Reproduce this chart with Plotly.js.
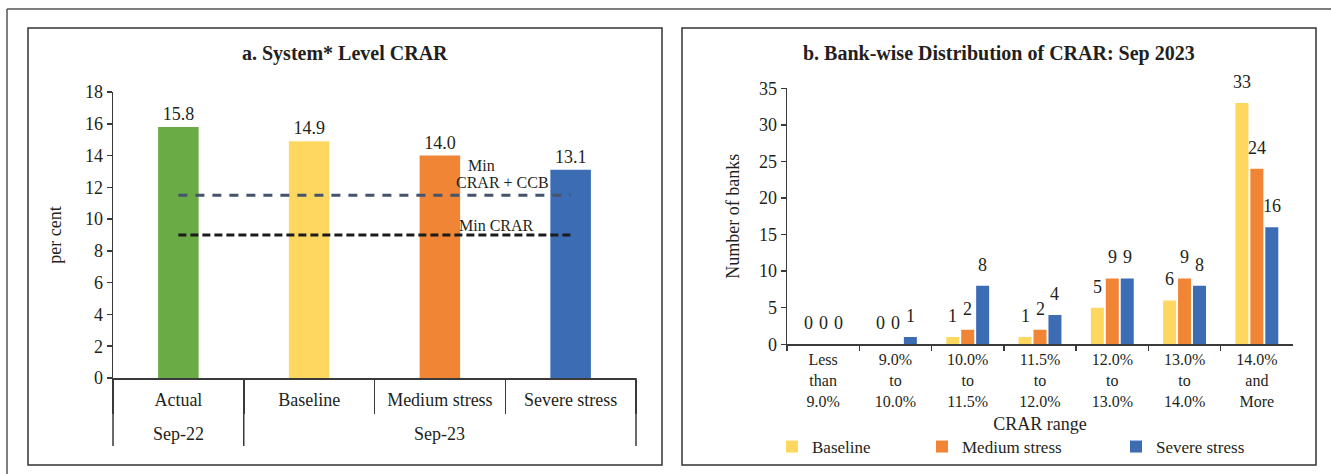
<!DOCTYPE html>
<html>
<head>
<meta charset="utf-8">
<script src="https://cdn.plot.ly/plotly-3.0.1.min.js"></script>
<style>
  html, body { margin: 0; padding: 0; background: #ffffff; }
  #chart { width: 1331px; height: 474px; }
</style>
</head>
<body>
<div id="chart"></div>
<script>
// Panel a: system-level CRAR (per cent)
const periods = ['Sep-22', 'Sep-23', 'Sep-23', 'Sep-23'];
const scenarios = ['Actual', 'Baseline', 'Medium stress', 'Severe stress'];
const systemCrar = [15.8, 14.9, 14.0, 13.1];
const scenarioColors = ['#6aab45', '#fed760', '#ef8535', '#3b6cb4'];
const minCrarCcb = 11.5;
const minCrar = 9.0;

// Panel b: number of banks by CRAR range, Sep 2023
const crarRanges = [
  'Less<br>than<br>9.0%', '9.0%<br>to<br>10.0%', '10.0%<br>to<br>11.5%',
  '11.5%<br>to<br>12.0%', '12.0%<br>to<br>13.0%', '13.0%<br>to<br>14.0%',
  '14.0%<br>and<br>More'
];
const baselineBanks = [0, 0, 1, 1, 5, 6, 33];
const mediumBanks = [0, 0, 2, 2, 9, 9, 24];
const severeBanks = [0, 1, 8, 4, 9, 8, 16];
const seriesNames = ['Baseline', 'Medium stress', 'Severe stress'];
const seriesColors = ['#fed760', '#ef8535', '#3b6cb4'];

// Figure geometry helpers (pixel -> paper fraction)
const W = 1331, H = 474;
const px = v => v / W;
const py = v => 1 - v / H;

const FONT = 'Liberation Serif, Times New Roman, serif';
const INK = '#231f20';
const AXIS = '#3a3a3a';

const BARGAP = 0.38;
const seriesValues = [baselineBanks, mediumBanks, severeBanks];

const traces = [];

// Panel a bars
traces.push({
  type: 'bar',
  x: scenarios,
  y: systemCrar,
  width: 0.31,
  marker: { color: scenarioColors },
  text: systemCrar.map(v => v.toFixed(1)),
  textposition: 'outside',
  textfont: { size: 18, color: INK },
  cliponaxis: false,
  hoverinfo: 'y',
  showlegend: false,
  xaxis: 'x', yaxis: 'y'
});

// Regulatory minimum lines, spanning first to last scenario
const lineX = [scenarios[0], scenarios[scenarios.length - 1]];
traces.push({
  type: 'scatter', mode: 'lines',
  x: lineX, y: [minCrarCcb, minCrarCcb],
  line: { color: '#44546a', width: 3, dash: '9px,8px' },
  showlegend: false, hoverinfo: 'skip',
  xaxis: 'x', yaxis: 'y'
});
traces.push({
  type: 'scatter', mode: 'lines',
  x: lineX, y: [minCrar, minCrar],
  line: { color: '#1c1c1c', width: 3, dash: '8px,4px' },
  showlegend: false, hoverinfo: 'skip',
  xaxis: 'x', yaxis: 'y'
});

// Panel b grouped bars, each with its own legend
const legendIds = ['legend', 'legend2', 'legend3'];
seriesNames.forEach((name, k) => {
  traces.push({
    type: 'bar',
    name: name,
    x: crarRanges,
    y: seriesValues[k],
    marker: { color: seriesColors[k] },
    legend: legendIds[k],
    xaxis: 'x2', yaxis: 'y2'
  });
});

// Value labels over panel b bars
const slot = (1 - BARGAP) / seriesNames.length;
const valueLabels = [];
seriesValues.forEach((vals, k) => {
  vals.forEach((v, i) => {
    valueLabels.push({
      xref: 'x2', yref: 'y2',
      x: i + (k - (seriesNames.length - 1) / 2) * slot,
      y: v,
      yshift: 21,
      text: String(v),
      showarrow: false,
      font: { size: 18, color: INK },
      xanchor: 'center', yanchor: 'middle'
    });
  });
});

// Period grouping under panel a: runs of identical period labels
const periodGroups = [];
periods.forEach((p, i) => {
  const last = periodGroups[periodGroups.length - 1];
  if (last && last.label === p) last.end = i;
  else periodGroups.push({ label: p, start: i, end: i });
});
const nCat = scenarios.length;
const dividerLine = { color: AXIS, width: 1.5 };
const periodShapes = [];
const periodLabels = [];
periodGroups.forEach((g, j) => {
  if (j === 0) {
    periodShapes.push({ type: 'line', xref: 'x domain', yref: 'paper',
      x0: g.start / nCat, x1: g.start / nCat, y0: py(378), y1: py(446), line: dividerLine });
  }
  periodShapes.push({ type: 'line', xref: 'x domain', yref: 'paper',
    x0: (g.end + 1) / nCat, x1: (g.end + 1) / nCat, y0: py(378), y1: py(446), line: dividerLine });
  periodLabels.push({ xref: 'x domain', yref: 'paper',
    x: (g.start + g.end + 1) / 2 / nCat, y: py(434), text: g.label,
    showarrow: false, font: { size: 18, color: INK }, xanchor: 'center', yanchor: 'middle' });
});

const legendBase = {
  orientation: 'h', yanchor: 'middle', xanchor: 'left',
  y: py(447), font: { size: 17, color: INK, family: FONT },
  bgcolor: 'rgba(0,0,0,0)', borderwidth: 0
};

const layout = {
  width: W, height: H,
  margin: { l: 0, r: 0, t: 0, b: 0 },
  paper_bgcolor: '#ffffff', plot_bgcolor: 'rgba(0,0,0,0)',
  font: { family: FONT, color: INK, size: 17 },
  barmode: 'group',
  bargap: BARGAP,
  bargroupgap: 0.13,
  xaxis: {
    domain: [px(113), px(636)], anchor: 'y',
    type: 'category',
    showline: true, linecolor: AXIS, linewidth: 1.5,
    ticks: 'outside', tickson: 'boundaries', ticklen: 34,
    tickcolor: AXIS, tickwidth: 1.5,
    ticklabelstandoff: 5,
    tickfont: { size: 18, color: INK },
    showgrid: false, zeroline: false, fixedrange: true
  },
  yaxis: {
    domain: [py(378), py(92)], anchor: 'x',
    range: [0, 18], dtick: 2,
    showline: true, linecolor: AXIS, linewidth: 1.5,
    ticks: 'outside', ticklen: 5, tickcolor: AXIS, tickwidth: 1.5,
    tickfont: { size: 18, color: INK },
    showgrid: false, zeroline: false, fixedrange: true,
    title: { text: 'per cent', font: { size: 18, color: INK }, standoff: 18 }
  },
  xaxis2: {
    domain: [px(787), px(1293)], anchor: 'y2',
    type: 'category',
    showline: true, linecolor: AXIS, linewidth: 1.5,
    ticks: 'outside', tickson: 'boundaries', ticklen: 5,
    tickcolor: AXIS, tickwidth: 1.5,
    tickfont: { size: 16, color: INK },
    showgrid: false, zeroline: false, fixedrange: true,
    title: { text: 'CRAR range', font: { size: 18, color: INK }, standoff: 9 }
  },
  yaxis2: {
    domain: [py(344.3), py(88.3)], anchor: 'x2',
    range: [0, 35], dtick: 5,
    showline: true, linecolor: AXIS, linewidth: 1.5,
    ticks: 'outside', ticklen: 5, tickcolor: AXIS, tickwidth: 1.5,
    tickfont: { size: 18, color: INK },
    showgrid: false, zeroline: false, fixedrange: true,
    title: { text: 'Number of banks', font: { size: 18, color: INK }, standoff: 14 }
  },
  legend: Object.assign({}, legendBase, { x: px(772) }),
  legend2: Object.assign({}, legendBase, { x: px(922) }),
  legend3: Object.assign({}, legendBase, { x: px(1116) }),
  shapes: [
    // outer frame
    { type: 'line', xref: 'paper', yref: 'paper', x0: px(7), x1: px(1331), y0: py(9), y1: py(9),
      line: { color: '#555555', width: 1.5 } },
    { type: 'line', xref: 'paper', yref: 'paper', x0: px(7), x1: px(7), y0: py(9), y1: py(474),
      line: { color: '#555555', width: 1.5 } },
    // panel boxes
    { type: 'rect', xref: 'paper', yref: 'paper', x0: px(28), x1: px(662), y0: py(465), y1: py(28),
      line: { color: '#333333', width: 1.5 } },
    { type: 'rect', xref: 'paper', yref: 'paper', x0: px(682), x1: px(1316), y0: py(465), y1: py(28),
      line: { color: '#333333', width: 1.5 } }
  ].concat(periodShapes),
  annotations: [
    { xref: 'paper', yref: 'paper', x: px(345), y: py(54), text: '<b>a. System* Level CRAR</b>',
      showarrow: false, font: { size: 20, color: INK }, xanchor: 'center', yanchor: 'middle' },
    { xref: 'paper', yref: 'paper', x: px(999), y: py(54), text: '<b>b. Bank-wise Distribution of CRAR: Sep 2023</b>',
      showarrow: false, font: { size: 20, color: INK }, xanchor: 'center', yanchor: 'middle' },
    { xref: 'x domain', yref: 'y', x: 0.7055, y: 13.4, text: 'Min',
      showarrow: false, font: { size: 16, color: INK }, xanchor: 'center', yanchor: 'middle' },
    { xref: 'x domain', yref: 'y', x: 0.7455, y: 12.3, text: 'CRAR + CCB',
      showarrow: false, font: { size: 16, color: INK }, xanchor: 'center', yanchor: 'middle' },
    { xref: 'x domain', yref: 'y', x: 0.7325, y: 9.6, text: 'Min CRAR',
      showarrow: false, font: { size: 16, color: INK }, xanchor: 'center', yanchor: 'middle' }
  ].concat(periodLabels, valueLabels)
};

Plotly.newPlot('chart', traces, layout, { displayModeBar: false, staticPlot: true });
</script>
</body>
</html>
